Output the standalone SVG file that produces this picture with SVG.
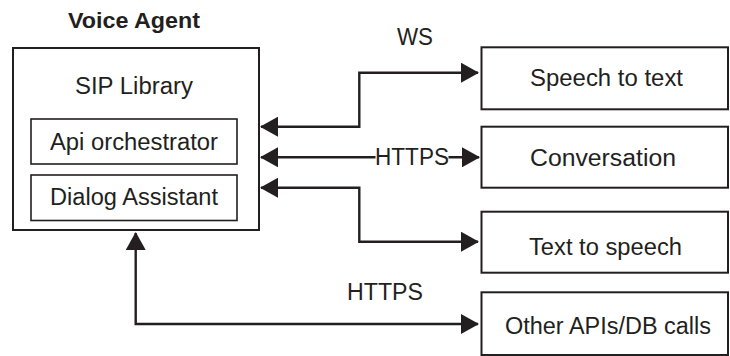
<svg xmlns="http://www.w3.org/2000/svg" width="730" height="356" viewBox="0 0 730 356">
  <style>
    .box { fill: #ffffff; stroke: #231f20; stroke-width: 2; }
    .inner { fill: #ffffff; stroke: #231f20; stroke-width: 1.6; }
    .label { font-family: "Liberation Sans", Arial, sans-serif; font-size: 23px; fill: #231f20; }
    .title { font-family: "Liberation Sans", Arial, sans-serif; font-size: 22px; font-weight: bold; fill: #231f20; }
    .wire { fill: none; stroke: #231f20; stroke-width: 2.4; marker-start: url(#head); marker-end: url(#head); }
  </style>
  <defs>
    <marker id="head" viewBox="0 0 18 20" markerWidth="18" markerHeight="20" markerUnits="userSpaceOnUse" refX="17" refY="10" orient="auto-start-reverse">
      <path d="M0,0 L18,10 L0,20 Z" fill="#231f20"/>
    </marker>
  </defs>

  <rect width="730" height="356" fill="#ffffff"/>

  <!-- connectors -->
  <g id="connectors">
    <path class="wire" d="M261,126.7 H359.3 V72.7 H478"/>
    <path class="wire" d="M261,157.3 H479"/>
    <path class="wire" d="M261,187.7 H359.3 V241.7 H478"/>
    <path class="wire" d="M135.7,233 V324 H478"/>
    <rect x="375.5" y="147" width="73" height="20" fill="#ffffff"/>
    <text class="label" x="375" y="165" textLength="74" lengthAdjust="spacingAndGlyphs">HTTPS</text>
    <text class="label" x="397" y="45" textLength="36" lengthAdjust="spacingAndGlyphs">WS</text>
    <text class="label" x="347" y="300" textLength="76" lengthAdjust="spacingAndGlyphs">HTTPS</text>
  </g>

  <!-- voice agent -->
  <g id="voice-agent">
    <text class="title" x="68" y="28" textLength="132" lengthAdjust="spacingAndGlyphs">Voice Agent</text>
    <rect class="box" x="13" y="48" width="246" height="182"/>
    <text class="label" x="75" y="94" textLength="118" lengthAdjust="spacingAndGlyphs">SIP Library</text>
  </g>
  <g id="api-orchestrator">
    <rect class="inner" x="31" y="119" width="206" height="45"/>
    <text class="label" x="50" y="150" textLength="168" lengthAdjust="spacingAndGlyphs">Api orchestrator</text>
  </g>
  <g id="dialog-assistant">
    <rect class="inner" x="31" y="175" width="206" height="45.5"/>
    <text class="label" x="50" y="205" textLength="168" lengthAdjust="spacingAndGlyphs">Dialog Assistant</text>
  </g>

  <!-- services -->
  <g id="speech-to-text">
    <rect class="box" x="481.5" y="47.3" width="246.5" height="62"/>
    <text class="label" x="530" y="86" textLength="153" lengthAdjust="spacingAndGlyphs">Speech to text</text>
  </g>
  <g id="conversation">
    <rect class="box" x="481.5" y="126.7" width="246.5" height="61"/>
    <text class="label" x="530" y="166" textLength="146" lengthAdjust="spacingAndGlyphs">Conversation</text>
  </g>
  <g id="text-to-speech">
    <rect class="box" x="481.5" y="211.7" width="246.5" height="61"/>
    <text class="label" x="529" y="255" textLength="153" lengthAdjust="spacingAndGlyphs">Text to speech</text>
  </g>
  <g id="other-apis">
    <rect class="box" x="481.5" y="292.3" width="246.5" height="62.7"/>
    <text class="label" x="505" y="334" textLength="206" lengthAdjust="spacingAndGlyphs">Other APIs/DB calls</text>
  </g>
</svg>
